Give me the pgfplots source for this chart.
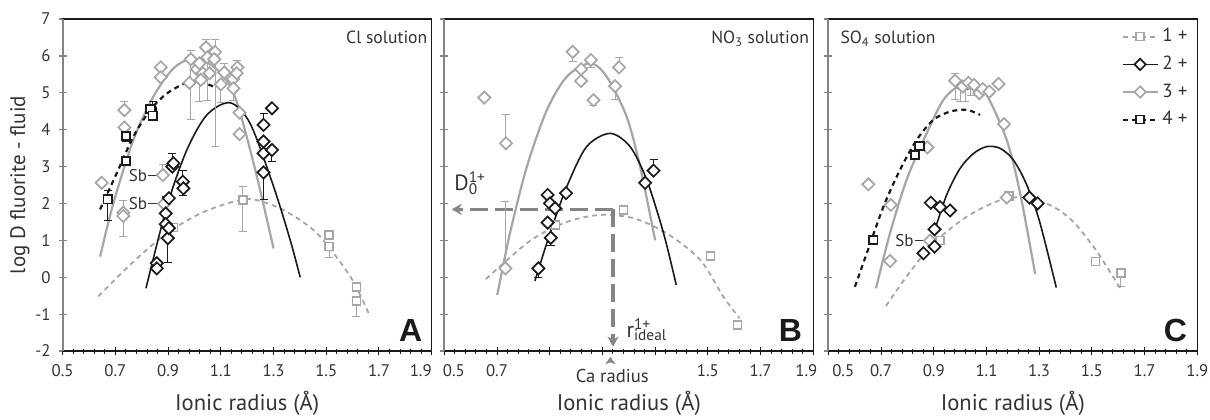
\documentclass[border=0pt]{standalone}
\usepackage{pgfplots}
\pgfplotsset{compat=1.18}
\usetikzlibrary{arrows.meta}
\usepackage{fontspec}
\setmainfont{PT Sans}
\newfontfamily\arialf{Liberation Sans}
\definecolor{lg}{HTML}{A6A6A6}
\definecolor{dg}{HTML}{858585}
\definecolor{bk}{HTML}{1A1A1A}
\definecolor{tx}{HTML}{333333}
\tikzset{xl/.style={anchor=center, font=\fontsize{11.3}{12}\selectfont, text=tx}}
\pgfplotsset{
 panel/.style={
  width=184.5pt, height=166pt, scale only axis,
  xmin=0.5, xmax=1.9, ymin=-2, ymax=7,
  xtick={0.5,0.7,0.9,1.1,1.3,1.5,1.7,1.9},
  ytick={-2,-1,0,1,2,3,4,5,6,7},
  minor x tick num=4,
  tick pos=left, tick align=center,
  major tick length=4pt, minor tick length=2.5pt,
  axis line style={draw=bk, line width=0.6pt},
  xtick style={draw=bk, line width=0.5pt},
  ytick style={draw=dg, line width=0.6pt},
  tick label style={font=\fontsize{8.4}{9}\selectfont, text=tx},
  xticklabel style={yshift=-1.2pt},
  yticklabel style={xshift=-0.5pt},
  clip=false,
 },
 c1/.style={draw=lg, line width=0.9pt, dash pattern=on 2.5pt off 2pt, smooth, mark=none},
 c2/.style={draw=bk, line width=0.8pt, smooth, mark=none},
 c3/.style={draw=lg, line width=1.1pt, smooth, mark=none},
 c4/.style={draw=bk, line width=1.1pt, dash pattern=on 2.5pt off 2pt, smooth, mark=none},
 m1/.style={only marks, mark=square*, mark size=2pt, mark options={draw=lg, fill=white, line width=0.7pt, solid}},
 m2/.style={only marks, mark=square*, mark size=2.15pt, mark options={draw=bk, fill=white, line width=0.85pt, rotate=45, solid}},
 m3/.style={only marks, mark=square*, mark size=2.15pt, mark options={draw=lg, fill=white, line width=0.85pt, rotate=45, solid}},
 m4/.style={only marks, mark=square*, mark size=2.1pt, mark options={draw=bk, fill=white, line width=0.85pt, solid}},
 eb/.style={only marks, mark=none, error bars/.cd, y dir=both, y explicit,
   error bar style={line width=0.5pt, draw=#1},
   error mark options={rotate=90, mark size=2pt, line width=0.5pt, draw=#1}, /pgfplots/.cd},
}
\begin{document}
\begin{tikzpicture}
\path[use as bounding box] (0,0) rectangle (605pt,209.5pt);
% ================= Panel A =================
\begin{axis}[panel, at={(31.35pt,34pt)}, anchor=south west,
  xticklabels={0.5,0.7,0.9,1.1,1.3,1.5,1.7,\llap{1.9}},
  yticklabels={-2,-1,0,1,2,3,4,5,6,7}]
\addplot[c1] coordinates {(0.635,-0.52) (0.768,0.42) (0.895,1.19) (1.022,1.73) (1.148,2.05) (1.224,2.11) (1.338,1.82) (1.465,1.19) (1.591,0.02) (1.661,-0.98)};
\addplot[c3] coordinates {(0.642,0.56) (0.692,2.0) (0.768,3.72) (0.844,4.9) (0.92,5.66) (0.99,5.92) (1.072,5.71) (1.148,5.0) (1.224,3.1) (1.3,0.78)};
\addplot[c4] coordinates {(0.642,1.84) (0.705,2.82) (0.768,3.81) (0.832,4.53) (0.895,4.98) (0.971,5.28) (1.02,5.3) (1.072,5.17)};
\addplot[c2] coordinates {(0.816,-0.3) (0.895,1.91) (0.971,3.45) (1.047,4.4) (1.135,4.73) (1.211,4.17) (1.3,2.46) (1.363,1.01) (1.401,0.0)};
% error bars
\addplot[eb=lg] coordinates {(0.734,4.53) += (0,0.24) (0.73,1.7) += (0,0.38) -= (0,0.6) (0.88,2.77) += (0,0.28)
 (0.986,5.91) += (0,0.25) -= (0,1.63) (1.019,5.8) -= (0,1.04) (1.044,6.23) += (0,0.22) (1.049,5.96) -= (0,1.16)
 (1.078,6.11) += (0,0.34) -= (0,2.57) (1.1,5.23) -= (0,0.49) (1.113,5.55) += (0,0.25) (1.163,5.69) += (0,0.18)
 (1.148,5.12) -= (0,0.32) (1.184,2.09) += (0,0.36) -= (0,0.84) (1.511,0.83) -= (0,0.3) (1.614,-0.64) -= (0,0.43)};
\addplot[eb=bk] coordinates {(0.916,3.05) += (0,0.3) (0.956,2.59) += (0,0.3) (0.956,2.41) -= (0,0.2) (0.899,1.06) -= (0,0.66)
 (0.891,1.73) += (0,0.45) (1.262,4.13) += (0,0.3) (1.262,2.84) -= (0,0.74) (1.294,3.45) -= (0,0.3)
 (0.671,2.11) += (0,0.25) -= (0,0.56) (0.74,3.83) -= (0,0.15) (0.842,4.56) += (0,0.2)};
% markers
\addplot[m1] coordinates {(0.92,1.35) (1.184,2.09) (1.511,1.15) (1.511,0.83) (1.614,-0.27) (1.614,-0.64)};
\addplot[m3] coordinates {(0.648,2.56) (0.734,4.53) (0.734,4.06) (0.73,1.75) (0.73,1.66) (0.872,5.69) (0.872,5.42)
 (0.88,2.77) (0.885,1.99) (0.981,5.27) (0.986,5.91) (1.009,5.64) (1.019,5.8) (1.032,5.53) (1.024,5.35)
 (1.044,6.23) (1.049,5.96) (1.057,5.53) (1.078,6.11) (1.075,5.91) (1.1,5.23) (1.113,5.55) (1.146,5.37)
 (1.163,5.69) (1.16,5.53) (1.148,5.12) (1.171,4.46) (1.171,3.88)};
\addplot[m2] coordinates {(0.857,0.38) (0.857,0.24) (0.891,1.73) (0.891,1.44) (0.899,1.06) (0.903,1.33) (0.903,2.14)
 (0.916,3.0) (0.92,3.09) (0.956,2.59) (0.958,2.41) (1.262,4.13) (1.262,3.68) (1.262,3.36) (1.262,2.84)
 (1.294,4.58) (1.294,3.45)};
\addplot[m4] coordinates {(0.671,2.11) (0.74,3.15) (0.74,3.83) (0.832,4.56) (0.842,4.38)};
% labels
\draw[tx, line width=0.4pt] (axis cs:0.825,2.77) -- (axis cs:0.868,2.77);
\draw[tx, line width=0.4pt] (axis cs:0.825,1.99) -- (axis cs:0.873,1.99);
\node[anchor=east, inner sep=0.5pt, font=\fontsize{8.5}{9}\selectfont, text=tx] at (axis cs:0.825,2.77) {Sb};
\node[anchor=east, inner sep=0.5pt, font=\fontsize{8.5}{9}\selectfont, text=tx] at (axis cs:0.825,1.99) {Sb};
\node[anchor=north east, inner sep=0pt, font=\fontsize{8.8}{9}\selectfont, text=tx] at ([xshift=-2pt,yshift=-6pt]rel axis cs:1,1) {Cl solution};
\node[anchor=south east, inner sep=0pt, font=\arialf\bfseries\fontsize{16}{16}\selectfont, text=bk] at ([xshift=-4.5pt,yshift=4.6pt]rel axis cs:1,0) {A};
\node[xl] at ([yshift=-26pt]rel axis cs:0.5,0) {Ionic radius (Å)};
\node[anchor=center, rotate=90, font=\fontsize{10.5}{11}\selectfont, text=tx] at ([xshift=-21.4pt]rel axis cs:0,0.5) {log D fluorite - fluid};
\draw[dg, line width=1pt] (rel axis cs:0,0) -- (rel axis cs:0,1);
\end{axis}
% ================= Panel B =================
\begin{axis}[panel, at={(222.15pt,34pt)}, anchor=south west,
  xticklabels={\rlap{\kern-0.7pt 0.5},0.7,,,,1.5,1.7,\llap{1.9\kern-2pt}},
  yticklabels={}]
\addplot[c1] coordinates {(0.658,-0.05) (0.737,0.46) (0.838,1.05) (0.965,1.5) (1.091,1.69) (1.218,1.6) (1.344,1.19) (1.471,0.47) (1.559,-0.53) (1.62,-1.11)};
\addplot[c3] coordinates {(0.701,-0.48) (0.749,1.19) (0.813,2.99) (0.889,4.53) (0.965,5.44) (1.053,5.8) (1.116,5.44) (1.192,4.35) (1.243,2.99) (1.3,1.0)};
\addplot[c2] coordinates {(0.844,-0.1) (0.901,1.19) (0.965,2.46) (1.04,3.54) (1.129,3.9) (1.205,3.54) (1.268,2.64) (1.332,1.19) (1.38,-0.21)};
% annotation arrows
\draw[dg, line width=1.6pt, dash pattern=on 9pt off 3.5pt, -{Stealth[length=5pt,width=5.5pt]}] (axis cs:1.14,1.84) -- (axis cs:0.528,1.84);
\draw[dg, line width=1.6pt, dash pattern=on 9pt off 3.5pt, -{Stealth[length=5pt,width=5.5pt]}] (axis cs:1.14,1.84) -- (axis cs:1.14,-1.88);
\addplot[eb=lg] coordinates {(0.734,3.63) += (0,0.79) (0.732,0.24) += (0,1.81) (0.987,6.11) -= (0,0.26) (1.056,5.89) -= (0,0.2)
 (1.163,5.69) += (0,0.26) (1.148,5.18) -= (0,0.35) (1.066,4.8) -= (0,0.15)};
\addplot[eb=bk] coordinates {(1.294,2.89) += (0,0.3) (0.857,0.24) -= (0,0.25) (0.904,1.07) -= (0,0.22)};
\addplot[m1] coordinates {(0.922,1.42) (1.18,1.82) (1.509,0.58) (1.613,-1.29)};
\addplot[m3] coordinates {(0.652,4.87) (0.734,3.63) (0.732,0.24) (0.987,6.11) (1.019,5.64) (1.019,5.32) (1.056,5.89) (1.066,4.8) (1.148,5.18) (1.163,5.69)};
\addplot[m2] coordinates {(0.857,0.24) (0.892,2.23) (0.901,2.0) (0.92,1.87) (0.892,1.48) (0.904,1.07) (0.962,2.28) (1.262,2.56) (1.294,2.89)};
\node[anchor=west, inner sep=0pt, font=\fontsize{11}{12}\selectfont, text=tx] at (axis cs:0.537,2.55) {D\rlap{\textsuperscript{1+}}\textsubscript{0}};
\node[anchor=west, inner sep=0pt, font=\fontsize{11}{12}\selectfont, text=tx] at (axis cs:1.19,-1.42) {r\rlap{\textsuperscript{1+}}\textsubscript{ideal}};
\fill[dg] ([yshift=-3pt]axis cs:1.13,-2) -- ++(2.6pt,-3.6pt) -- ++(-2.6pt,0.9pt) -- ++(-2.6pt,-0.9pt) -- cycle;
\node[anchor=center, font=\fontsize{9.3}{10}\selectfont, text=tx] at ([yshift=-12.5pt]axis cs:1.137,-2) {Ca radius};
\node[anchor=north east, inner sep=0pt, font=\fontsize{8.8}{9}\selectfont, text=tx] at ([xshift=-2pt,yshift=-6pt]rel axis cs:1,1) {NO\textsubscript{3} solution};
\node[anchor=south east, inner sep=0pt, font=\arialf\bfseries\fontsize{16}{16}\selectfont, text=bk] at ([xshift=-5.5pt,yshift=4.6pt]rel axis cs:1,0) {B};
\node[xl] at ([yshift=-26pt]rel axis cs:0.5,0) {Ionic radius (Å)};
\draw[dg, line width=1pt] (rel axis cs:0,0) -- (rel axis cs:0,1);
\end{axis}
% ================= Panel C =================
\begin{axis}[panel, at={(414.15pt,34pt)}, anchor=south west,
  xticklabels={\rlap{\kern2pt 0.5},0.7,0.9,1.1,1.3,1.5,1.7,1.9},
  yticklabels={},
  legend style={draw=none, fill=none, at={(rel axis cs:0.985,0.985)}, anchor=north east,
    font=\fontsize{9.5}{10}\selectfont, text=tx, row sep=1.6pt, inner sep=0pt},
  legend cell align=left]
\addlegendimage{c1, mark=square*, mark size=2pt, mark options={draw=lg, fill=white, line width=0.7pt, solid}}
\addlegendentry{1 +}
\addlegendimage{c2, mark=square*, mark size=2pt, mark options={draw=bk, fill=white, line width=0.85pt, rotate=45, solid}}
\addlegendentry{2 +}
\addlegendimage{c3, mark=square*, mark size=2pt, mark options={draw=lg, fill=white, line width=0.85pt, rotate=45, solid}}
\addlegendentry{3 +}
\addlegendimage{c4, mark=square*, mark size=2pt, mark options={draw=bk, fill=white, line width=0.85pt, solid}}
\addlegendentry{4 +}
\addplot[forget plot, c1] coordinates {(0.719,-0.78) (0.797,0.02) (0.899,0.92) (1.025,1.64) (1.152,2.09) (1.253,2.16) (1.354,1.91) (1.43,1.5) (1.506,0.83) (1.557,0.28) (1.608,-0.3)};
\addplot[forget plot, c3] coordinates {(0.681,-0.3) (0.734,1.19) (0.797,2.64) (0.873,3.9) (0.937,4.81) (1.0,5.21) (1.051,5.21) (1.101,4.94) (1.177,3.72) (1.228,2.27) (1.285,0.08)};
\addplot[forget plot, c4] coordinates {(0.601,-0.26) (0.646,0.65) (0.709,1.91) (0.772,2.91) (0.835,3.72) (0.899,4.27) (0.962,4.49) (1.025,4.54) (1.076,4.4)};
\addplot[forget plot, c2] coordinates {(0.905,1.3) (0.95,2.25) (1.0,2.95) (1.05,3.35) (1.1,3.54) (1.15,3.5) (1.2,3.2) (1.25,2.55) (1.3,1.55) (1.365,-0.28)};
\addplot[forget plot, eb=lg] coordinates {(0.981,5.33) += (0,0.2) -= (0,0.51) (1.0,5.2) -= (0,0.44) (1.02,5.18) -= (0,0.42) (1.04,5.22) += (0,0.12) -= (0,0.3) (1.61,0.11) -= (0,0.35)};
\addplot[forget plot, m1] coordinates {(0.924,0.99) (1.186,2.2) (1.513,0.42) (1.61,0.11)};
\addplot[forget plot, m3] coordinates {(0.652,2.52) (0.737,1.96) (0.734,0.44) (0.876,3.52) (0.886,0.99) (0.981,5.33) (1.01,5.17) (1.032,5.27) (1.053,5.21) (1.073,4.99) (1.086,5.1) (1.111,5.03) (1.146,5.24) (1.167,4.15) (1.177,2.16)};
\addplot[forget plot, m2] coordinates {(0.861,0.65) (0.889,2.02) (0.903,1.3) (0.924,1.9) (0.962,1.81) (0.903,0.83) (1.263,2.16) (1.294,2.0)};
\addplot[forget plot, m4] coordinates {(0.671,1.01) (0.829,3.31) (0.846,3.56)};
\draw[tx, line width=0.4pt] (axis cs:0.829,0.99) -- (axis cs:0.875,0.99);
\node[anchor=east, inner sep=0.5pt, font=\fontsize{8.5}{9}\selectfont, text=tx] at (axis cs:0.829,0.99) {Sb};
\node[anchor=north west, inner sep=0pt, font=\fontsize{8.8}{9}\selectfont, text=tx] at ([xshift=5.9pt,yshift=-6pt]rel axis cs:0,1) {SO\textsubscript{4} solution};
\node[anchor=south east, inner sep=0pt, font=\arialf\bfseries\fontsize{16}{16}\selectfont, text=bk] at ([xshift=-5pt,yshift=4.6pt]rel axis cs:1,0) {C};
\node[xl] at ([yshift=-26pt]rel axis cs:0.5,0) {Ionic radius (Å)};
\draw[dg, line width=1pt] (rel axis cs:0,0) -- (rel axis cs:0,1);
\end{axis}
\end{tikzpicture}
\end{document}
